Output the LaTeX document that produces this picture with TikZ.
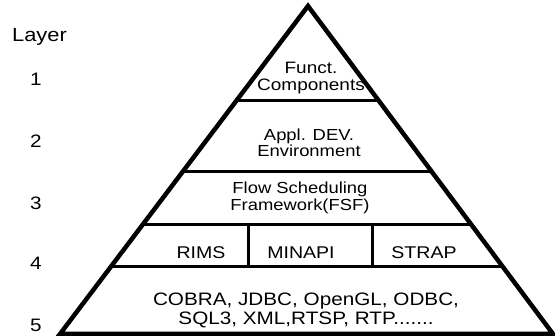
\documentclass[tikz,border=0pt]{standalone}
\usepackage{fontspec}
\setmainfont{Liberation Sans}[FakeStretch=1.15]
\begin{document}
\begin{tikzpicture}[x=1pt,y=-1pt,
  edge/.style={line width=4.5pt,line join=miter},
  sep/.style={line width=3pt},
  lbl/.style={inner sep=0pt,font=\fontsize{18}{20}\selectfont},
  txt/.style={inner sep=0pt,align=center},
  mid/.style={txt,font=\fontsize{16}{18}\selectfont},
  big/.style={txt,font=\fontsize{17}{19}\selectfont}]
\useasboundingbox (0,0) rectangle (555,336);
\fill[white] (0,0) rectangle (555,336);
\coordinate (A) at (308,6);
\coordinate (L) at (60,334);
\coordinate (R) at (553,334);
\begin{scope}
  \clip (A) -- (L) -- (R) -- cycle;
  \draw[sep] (0,101) -- (555,101);
  \draw[sep] (0,172) -- (555,172);
  \draw[sep] (0,225) -- (555,225);
  \draw[sep] (0,267) -- (555,267);
  \draw[sep] (248,225) -- (248,267);
  \draw[sep] (372,225) -- (372,267);
\end{scope}
\draw[edge] (A) -- (L) -- (R) -- cycle;
% layer labels
\node[lbl,anchor=west,font=\fontsize{19}{21}\selectfont] (layer) at (12,37) {Layer};
\node[lbl] (n1) at (36,79) {1};
\node[lbl] (n2) at (36,141) {2};
\node[lbl] (n3) at (36,203) {3};
\node[lbl] (n4) at (36,263) {4};
\node[lbl] (n5) at (36,325) {5};
% pyramid texts
\node[mid,font=\fontsize{16.5}{17}\selectfont] (funct) at (311,78) {Funct.\\Components};
\node[mid] (appl) at (309,143) {Appl. DEV.\\[-2pt]Environment};
\node[mid] (flow) at (300,198) {Flow Scheduling\\[-1pt]Framework(FSF)};
\node[big] (rims) at (201,253) {RIMS};
\node[big] (minapi) at (301,253) {MINAPI};
\node[big] (strap) at (424,253) {STRAP};
\node[big,font=\fontsize{18}{19}\selectfont] (cobra) at (306,310) {COBRA, JDBC, OpenGL, ODBC,\\SQL3, XML,RTSP, RTP.......};
\end{tikzpicture}
\end{document}
